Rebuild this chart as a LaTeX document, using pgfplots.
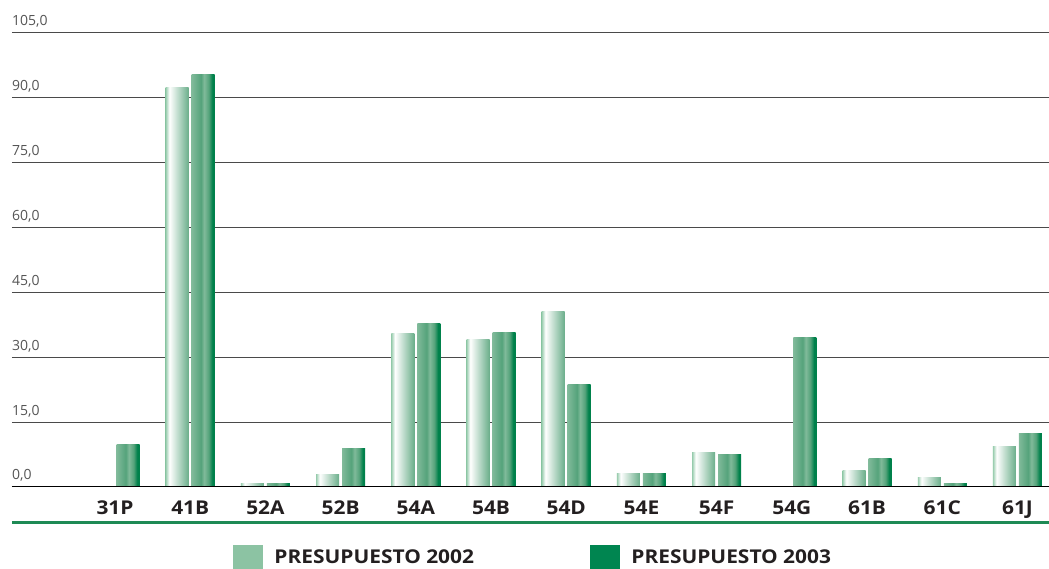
\documentclass[border=0pt]{standalone}
\usepackage{fontspec}
\setmainfont{Open Sans}
\newfontfamily\heavy[FakeStretch=1.1]{Open Sans}
\usepackage{pgfplots}
\pgfplotsset{compat=1.18}
\definecolor{gA}{HTML}{9ACDAF}
\definecolor{gB}{HTML}{6AAE8A}
\definecolor{gC}{HTML}{80BA9A}
\definecolor{gD}{HTML}{55A37B}
\definecolor{gE}{HTML}{00814B}
\definecolor{legA}{HTML}{8CC3A3}
\definecolor{legB}{HTML}{008550}
\definecolor{lineGreen}{HTML}{1E8A55}
\definecolor{gridgrey}{HTML}{4A4A4A}
\definecolor{tickgrey}{HTML}{555555}
\definecolor{labelcol}{HTML}{231F20}
\pgfdeclarehorizontalshading{shA}{100bp}{color(0bp)=(gA); color(25bp)=(gA); color(33bp)=(white); color(75bp)=(gB); color(100bp)=(gB)}
\pgfdeclarehorizontalshading{shB}{100bp}{color(0bp)=(gC); color(25bp)=(gC); color(45bp)=(gD); color(52bp)=(gC); color(62bp)=(gD); color(70bp)=(gE); color(100bp)=(gE)}
\pgfplotsset{
    b02/.style={ybar, bar width=23pt, bar shift=-13pt, draw=none, shading=shA, forget plot},
    b03/.style={ybar, bar width=23pt, bar shift=13pt, draw=none, shading=shB, forget plot},
}
\begin{document}
\begin{tikzpicture}[x=1pt,y=1pt]
\useasboundingbox (0,0) rectangle (1049,569);
\begin{axis}[
    at={(12pt,82pt)}, anchor=south west,
    scale only axis, width=1037pt, height=454pt,
    xmin=-1.37, xmax=12.42, ymin=0, ymax=105,
    ytick={0,15,...,105},
    ymajorgrids, grid style={draw=gridgrey, line width=1pt},
    axis line style={draw=none},
    major tick length=0pt,
    xtick={0,...,12},
    xticklabels={31P,41B,52A,52B,54A,54B,54D,54E,54F,54G,61B,61C,61J},
    xticklabel style={font=\fontsize{19}{19}\selectfont\heavy\bfseries, text=labelcol, anchor=north, inner sep=0pt, yshift=-14pt},
    yticklabel style={font=\fontsize{14}{14}\selectfont, text=tickgrey, anchor=base west, inner sep=0pt, yshift=7pt,
        /pgf/number format/use comma, /pgf/number format/fixed, /pgf/number format/fixed zerofill,
        /pgf/number format/precision=1, /pgf/number format/assume math mode=true},
    legend columns=2,
    legend style={at={(0.213,0)}, anchor=north west, yshift=-58pt, draw=none, fill=none, inner sep=0pt,
        font=\fontsize{19}{19}\selectfont\heavy\bfseries, text=labelcol,
        /tikz/every odd column/.append style={column sep=10pt},
        /tikz/every even column/.append style={column sep=114pt}},
]
% PRESUPUESTO 2002
\addplot[b02] coordinates {(1,92.3)};
\addplot[b02] coordinates {(2,0.9)};
\addplot[b02] coordinates {(3,3.0)};
\addplot[b02] coordinates {(4,35.6)};
\addplot[b02] coordinates {(5,34.2)};
\addplot[b02] coordinates {(6,40.7)};
\addplot[b02] coordinates {(7,3.2)};
\addplot[b02] coordinates {(8,7.9)};
\addplot[b02] coordinates {(10,3.9)};
\addplot[b02] coordinates {(11,2.1)};
\addplot[b02] coordinates {(12,9.3)};
% PRESUPUESTO 2003
\addplot[b03] coordinates {(0,9.9)};
\addplot[b03] coordinates {(1,95.3)};
\addplot[b03] coordinates {(2,0.9)};
\addplot[b03] coordinates {(3,8.8)};
\addplot[b03] coordinates {(4,37.7)};
\addplot[b03] coordinates {(5,35.8)};
\addplot[b03] coordinates {(6,23.6)};
\addplot[b03] coordinates {(7,3.1)};
\addplot[b03] coordinates {(8,7.6)};
\addplot[b03] coordinates {(9,34.5)};
\addplot[b03] coordinates {(10,6.5)};
\addplot[b03] coordinates {(11,0.7)};
\addplot[b03] coordinates {(12,12.3)};
\addlegendimage{legend image code/.code={\fill[legA] (0pt,-12pt) rectangle (29pt,12pt);}}
\addlegendentry{PRESUPUESTO 2002}
\addlegendimage{legend image code/.code={\fill[legB] (0pt,-12pt) rectangle (29pt,12pt);}}
\addlegendentry{PRESUPUESTO 2003}
\draw[black, line width=1.2pt] (rel axis cs:0,0) -- (rel axis cs:1,0);
\end{axis}
\draw[lineGreen, line width=3pt] (12,46) -- (1049,46);
\end{tikzpicture}
\end{document}
